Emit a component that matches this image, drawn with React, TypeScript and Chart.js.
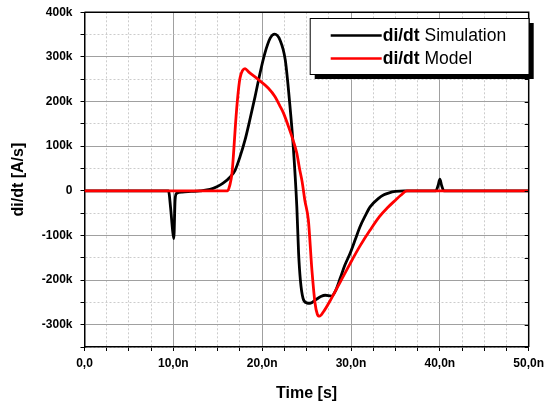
import React, { useEffect, useRef } from "react";
import { Chart, registerables } from "chart.js";

Chart.register(...registerables);

// Time in ns, values in A/s
const simTime = [0, 9.45, 9.7, 9.9, 10.05, 10.2, 10.35, 11, 12, 13, 14.13, 14.9, 15.6, 16.4, 16.95, 17.5, 18.07, 18.6, 19.2, 19.75, 20.3, 20.9, 21.4, 22.0, 22.6, 23.1, 23.5, 23.9, 24.1, 24.3, 24.6, 25.0, 25.4, 26.1, 26.6, 27.1, 27.8, 28.3, 28.8, 29.3, 29.9, 30.5, 31.0, 31.6, 32.15, 33.1, 33.7, 34.3, 35.0, 36.0, 39.55, 39.8, 40.0, 40.2, 40.45, 50];
const simValue = [0, 0, -40000, -85000, -107000, -20000, -6000, -3000, -1500, 0, 3000, 9000, 17000, 31000, 46000, 76000, 114000, 158000, 211000, 263000, 308000, 342000, 351000, 338000, 293000, 196000, 99000, -36000, -140000, -200000, -241000, -251000, -252000, -243000, -237000, -234000, -236000, -222000, -195000, -167000, -140000, -108000, -81000, -56000, -36000, -17000, -9000, -4500, -1500, 0, 0, 12000, 26000, 12000, 0, 0];

const modelTime = [0, 16.1, 16.35, 16.6, 16.8, 17.0, 17.25, 17.5, 17.8, 18.07, 18.5, 19.4, 20.7, 21.45, 22.0, 22.4, 23.1, 23.5, 23.9, 24.2, 24.5, 24.8, 25.2, 25.6, 25.95, 26.2, 26.45, 26.9, 27.8, 28.8, 29.9, 31.0, 32.15, 33.2, 34.1, 35.0, 35.6, 36.3, 50];
const modelValue = [0, 0, 12000, 39000, 90000, 150000, 211000, 252000, 270000, 274000, 266000, 252000, 230000, 211000, 190000, 174000, 136000, 112000, 84000, 50000, 20000, -21000, -66000, -178000, -252000, -276000, -281000, -271000, -241000, -204000, -163000, -124000, -88000, -58000, -38000, -21000, -10000, 0, 0];

const seriesBold = ["di/dt", "di/dt"];
const seriesRest = [" Simulation", " Model"];
const seriesColors = ["#000000", "#ff0000"];

const xTitle = "Time [s]";
const yTitle = "di/dt [A/s]";

const FONT = "'Liberation Sans', Arial, sans-serif";

function fmtX(v: number): string {
  if (v === 0) return "0,0";
  return v.toFixed(1).replace(".", ",") + "n";
}
function fmtY(v: number): string {
  if (v === 0) return "0";
  return v / 1000 + "k";
}

const framePlugin = {
  id: "frameAndLegend",
  afterDraw(chart: any) {
    const ctx = chart.ctx;
    const a = chart.chartArea;
    const ys = chart.scales.y;
    ctx.save();
    ctx.strokeStyle = "#000";
    ctx.lineWidth = 1.5;
    ctx.beginPath();
    ctx.moveTo(a.left, a.top);
    ctx.lineTo(a.right, a.top);
    ctx.lineTo(a.right, a.bottom);
    ctx.stroke();
    ctx.lineWidth = 1;
    for (let v = -350000; v <= 400000; v += 50000) {
      const py = Math.round(ys.getPixelForValue(v)) + 0.5;
      ctx.beginPath();
      ctx.moveTo(a.right - 4, py);
      ctx.lineTo(a.right, py);
      ctx.stroke();
    }
    const bw = 219;
    const bh = 56;
    const bx = a.right - bw;
    const by = a.top + 5.7;
    ctx.fillStyle = "#000";
    ctx.fillRect(bx + 5, by + 5, bw, bh);
    ctx.fillStyle = "#fff";
    ctx.fillRect(bx, by, bw, bh);
    ctx.strokeStyle = "#000";
    ctx.lineWidth = 1;
    ctx.strokeRect(bx + 0.5, by + 0.5, bw, bh);
    const rowsY = [by + 17.5, by + 40.5];
    for (let i = 0; i < seriesBold.length; i++) {
      const yy = rowsY[i];
      ctx.strokeStyle = seriesColors[i];
      ctx.lineWidth = 2.5;
      ctx.beginPath();
      ctx.moveTo(bx + 21, yy);
      ctx.lineTo(bx + 72, yy);
      ctx.stroke();
      ctx.fillStyle = "#000";
      ctx.textBaseline = "middle";
      ctx.textAlign = "left";
      ctx.font = "bold 17.5px " + FONT;
      ctx.fillText(seriesBold[i], bx + 73, yy + 1);
      const w = ctx.measureText(seriesBold[i]).width;
      ctx.font = "17.5px " + FONT;
      ctx.fillText(seriesRest[i], bx + 73 + w, yy + 1);
    }
    ctx.restore();
  },
};

export default function App() {
  const ref = useRef<HTMLCanvasElement | null>(null);
  useEffect(() => {
    if (!ref.current) return;
    const simData = simTime.map((t, i) => ({ x: t, y: simValue[i] }));
    const modelData = modelTime.map((t, i) => ({ x: t, y: modelValue[i] }));
    const isMajorX = (v: number) => Math.abs(v % 10) < 1e-6;
    const isMajorY = (v: number) => Math.abs(v % 100000) < 1e-6;
    const chart = new Chart(ref.current, {
      type: "line",
      data: {
        datasets: [
          {
            label: seriesBold[0] + seriesRest[0],
            data: simData,
            borderColor: seriesColors[0],
            borderWidth: 2.8,
            pointRadius: 0,
            cubicInterpolationMode: "monotone",
            order: 1,
          },
          {
            label: seriesBold[1] + seriesRest[1],
            data: modelData,
            borderColor: seriesColors[1],
            borderWidth: 2.8,
            pointRadius: 0,
            cubicInterpolationMode: "monotone",
            order: 0,
          },
        ],
      },
      options: {
        responsive: false,
        animation: false,
        devicePixelRatio: 1,
        layout: { padding: { left: 0, top: 12.3, right: 15.3, bottom: 0 } },
        plugins: { legend: { display: false }, tooltip: { enabled: false } },
        scales: {
          x: {
            type: "linear",
            min: 0,
            max: 50,
            afterFit: (s: any) => {
              s.height = 57;
              s.paddingLeft = 0;
              s.paddingRight = 0;
            },
            ticks: {
              stepSize: 2.5,
              autoSkip: false,
              maxRotation: 0,
              padding: 5,
              color: "#000",
              font: { family: FONT, size: 12, weight: "bold" },
              callback: (v: any) => (isMajorX(Number(v)) ? fmtX(Number(v)) : ""),
            },
            grid: {
              color: (c: any) => (c.tick && isMajorX(c.tick.value) ? "#a0a0a0" : "#cccccc"),
              lineWidth: 1,
              tickColor: "#000",
              tickLength: 4,
            },
            border: {
              display: true,
              color: "#000",
              width: 1.5,
              dash: (c: any) => (c.tick && isMajorX(c.tick.value) ? [] : [2, 2]),
            },
            title: {
              display: true,
              text: xTitle,
              color: "#000",
              font: { family: FONT, size: 16, weight: "bold" },
              padding: { top: 0, bottom: 1 },
            },
          },
          y: {
            type: "linear",
            min: -350000,
            max: 400000,
            afterFit: (s: any) => {
              s.width = 84.5;
              s.paddingTop = 0;
              s.paddingBottom = 0;
            },
            ticks: {
              stepSize: 50000,
              autoSkip: false,
              padding: 8,
              color: "#000",
              font: { family: FONT, size: 12, weight: "bold" },
              callback: (v: any) => (isMajorY(Number(v)) ? fmtY(Number(v)) : ""),
            },
            grid: {
              color: (c: any) => (c.tick && isMajorY(c.tick.value) ? "#a0a0a0" : "#cccccc"),
              lineWidth: 1,
              tickColor: "#000",
              tickLength: 4,
            },
            border: {
              display: true,
              color: "#000",
              width: 1.5,
              dash: (c: any) => (c.tick && isMajorY(c.tick.value) ? [] : [2, 2]),
            },
            title: {
              display: true,
              text: yTitle,
              color: "#000",
              font: { family: FONT, size: 16, weight: "bold" },
              padding: { top: 9, bottom: 0 },
            },
          },
        },
      },
      plugins: [framePlugin],
    } as any);
    return () => chart.destroy();
  }, []);
  return (
    <div style={{ position: "fixed", left: 0, top: 0, width: 544, height: 404, background: "#fff" }}>
      <canvas ref={ref} width={544} height={404} style={{ display: "block" }} />
    </div>
  );
}
